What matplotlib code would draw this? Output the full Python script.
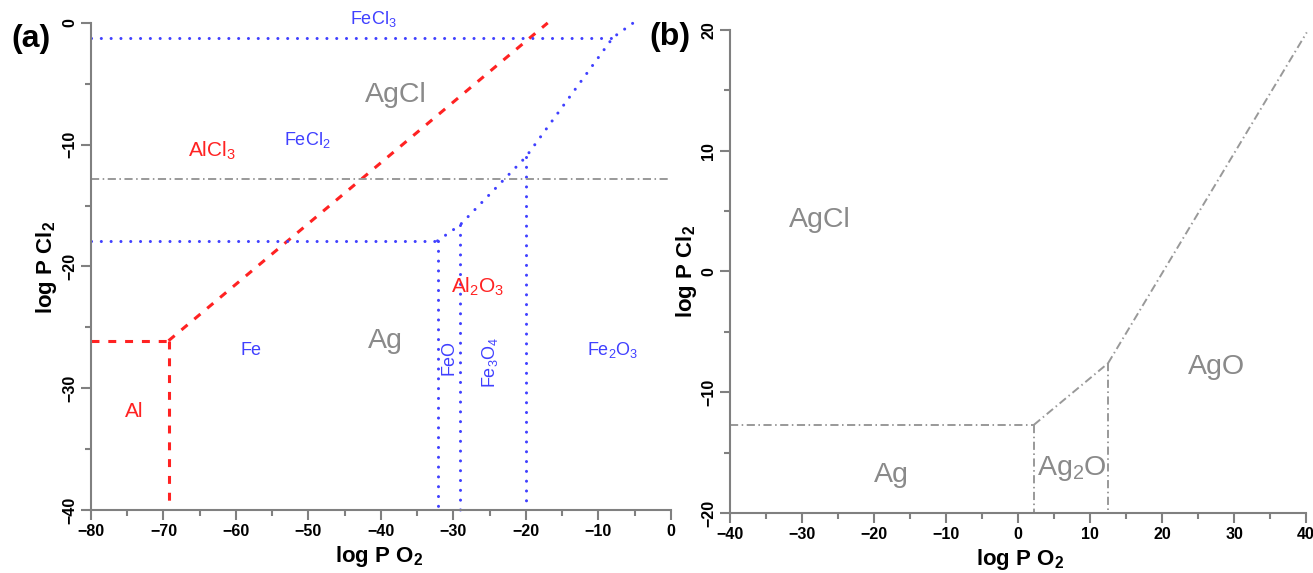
import numpy as np
import matplotlib
matplotlib.use('Agg')
import matplotlib.pyplot as plt
from matplotlib.ticker import MultipleLocator

plt.rcParams['font.family'] = ['Liberation Sans', 'DejaVu Sans']
plt.rcParams['mathtext.fontset'] = 'custom'
plt.rcParams['mathtext.rm'] = 'Liberation Sans'
plt.rcParams['mathtext.bf'] = 'Liberation Sans:bold'
plt.rcParams['mathtext.default'] = 'regular'

RED = '#ff2222'
BLUE = '#4040ff'
GRAY = '#999999'
TXTGRAY = '#8a8a8a'
AXCOL = '#808080'

# ---- panel (a): Al / Fe / Ag in Cl2-O2 ----
# Al boundaries
al_h_x, al_h_y = [-80, -69.3], [-26.1, -26.1]
al_v_x, al_v_y = [-69.3, -69.3], [-26.1, -40]
alcl3_x, alcl3_y = [-69.3, -17.0], [-26.1, 0.0]

# Fe boundaries
fecl3_x, fecl3_y = [-80, -8.0], [-1.2, -1.2]
fecl2_x, fecl2_y = [-80, -32.2], [-17.9, -17.9]
fe_diag_x = [-32.2, -29.1, -20.0, -8.0, -5.2]
fe_diag_y = [-17.9, -16.6, -11.0, -1.2, 0.0]
fe_vert_x = [-32.2, -29.1, -20.0]
fe_vert_top = [-17.9, -16.6, -11.0]

# Ag boundary shown in (a)
ag_a_x, ag_a_y = [-80, 0], [-12.8, -12.8]

labels_a = [
    ('FeCl$_3$', -41.1, 0.3, BLUE, 13, 0),
    ('AgCl', -37.9, -5.9, TXTGRAY, 20.5, 0),
    ('AlCl$_3$', -63.3, -10.5, RED, 15, 0),
    ('FeCl$_2$', -50.2, -9.6, BLUE, 13, 0),
    ('Al$_2$O$_3$', -26.6, -21.7, RED, 15, 0),
    ('Ag', -39.4, -26.1, TXTGRAY, 20.5, 0),
    ('Fe', -57.9, -26.9, BLUE, 13, 0),
    ('Al', -74.1, -31.9, RED, 15, 0),
    ('FeO', -30.6, -27.5, BLUE, 13, 90),
    ('Fe$_3$O$_4$', -25.0, -27.9, BLUE, 13, 90),
    ('Fe$_2$O$_3$', -8.1, -26.9, BLUE, 13, 0),
]

# ---- panel (b): Ag in Cl2-O2 ----
agcl_h_x, agcl_h_y = [-40, 2.2], [-12.7, -12.7]
ag2o_v_x, ag2o_v_y = [2.2, 2.2], [-12.7, -20]
ag2o_agcl_x, ag2o_agcl_y = [2.2, 12.5], [-12.7, -7.6]
ago_v_x, ago_v_y = [12.5, 12.5], [-7.6, -20]
ago_agcl_x, ago_agcl_y = [12.5, 40.1], [-7.6, 19.8]

labels_b = [
    ('AgCl', -27.5, 4.3),
    ('AgO', 27.6, -7.9),
    ('Ag', -17.6, -16.85),
    ('Ag$_2$O', 7.5, -16.3),
]

red_ls = (0, (2.6, 2.9))
blue_ls = (0, (0.01, 3.2))
gray_ls = (0, (4.2, 1.8, 0.8, 1.8))

fig = plt.figure(figsize=(13.13, 5.73), dpi=100)
ax1 = fig.add_axes([0.0693, 0.110, 0.4417, 0.850])
ax2 = fig.add_axes([0.556, 0.1047, 0.4387, 0.843])


def blue_line(ax, xs, ys):
    ax.plot(xs, ys, color=BLUE, lw=2.2, ls=blue_ls,
            dash_capstyle='round', clip_on=False)


def style_axes(ax):
    for s in ['top', 'right']:
        ax.spines[s].set_visible(False)
    for s in ['left', 'bottom']:
        ax.spines[s].set_color(AXCOL)
        ax.spines[s].set_linewidth(1.5)
    ax.xaxis.set_major_locator(MultipleLocator(10))
    ax.xaxis.set_minor_locator(MultipleLocator(5))
    ax.yaxis.set_major_locator(MultipleLocator(10))
    ax.yaxis.set_minor_locator(MultipleLocator(5))
    ax.tick_params(which='major', length=7, width=1.5, color=AXCOL,
                   labelsize=11.5, pad=3)
    ax.tick_params(which='minor', length=4, width=1.5, color=AXCOL)
    for lbl in ax.get_xticklabels() + ax.get_yticklabels():
        lbl.set_fontweight('bold')
    for lbl in ax.get_yticklabels():
        lbl.set_rotation(90)
        lbl.set_va('center')
    ax.set_xlabel(r'log P O$_\mathbf{2}$', fontsize=16, fontweight='bold',
                  va='center')
    ax.set_ylabel(r'log P Cl$_\mathbf{2}$', fontsize=16, fontweight='bold',
                  va='center')


# panel (a)
ax1.plot(al_h_x, al_h_y, color=RED, lw=2.2, ls=red_ls, clip_on=False)
ax1.plot(al_v_x, al_v_y, color=RED, lw=2.2, ls=red_ls, clip_on=False)
ax1.plot(alcl3_x, alcl3_y, color=RED, lw=2.2, ls=red_ls, clip_on=False)
blue_line(ax1, fecl3_x, fecl3_y)
blue_line(ax1, fecl2_x, fecl2_y)
blue_line(ax1, fe_diag_x, fe_diag_y)
for xv, yt in zip(fe_vert_x, fe_vert_top):
    blue_line(ax1, [xv, xv], [yt, -40])
ax1.plot(ag_a_x, ag_a_y, color=GRAY, lw=1.4, ls=gray_ls, clip_on=False)

for txt, x, y, c, fs, rot in labels_a:
    ax1.text(x, y, txt, color=c, fontsize=fs, rotation=rot,
             ha='center', va='center', clip_on=False)

ax1.set_xlim(-80, 0)
ax1.set_ylim(-40, 0)
style_axes(ax1)
ax1.xaxis.set_label_coords(0.497, -0.0965)
ax1.yaxis.set_label_coords(-0.076, 0.497)

# panel (b)
for xs, ys in [(agcl_h_x, agcl_h_y), (ag2o_v_x, ag2o_v_y),
               (ag2o_agcl_x, ag2o_agcl_y), (ago_v_x, ago_v_y),
               (ago_agcl_x, ago_agcl_y)]:
    ax2.plot(xs, ys, color=GRAY, lw=1.4, ls=gray_ls, clip_on=False)

for txt, x, y in labels_b:
    ax2.text(x, y, txt, color=TXTGRAY, fontsize=20.5,
             ha='center', va='center')

ax2.set_xlim(-40, 40)
ax2.set_ylim(-20, 20)
style_axes(ax2)
ax2.xaxis.set_label_coords(0.503, -0.097)
ax2.yaxis.set_label_coords(-0.075, 0.5)

fig.text(31 / 1313, 1 - 39 / 573, '(a)', fontsize=23, fontweight='bold',
         ha='center', va='center')
fig.text(670 / 1313, 1 - 37 / 573, '(b)', fontsize=23, fontweight='bold',
         ha='center', va='center')

fig.savefig('out.png', dpi=100)
